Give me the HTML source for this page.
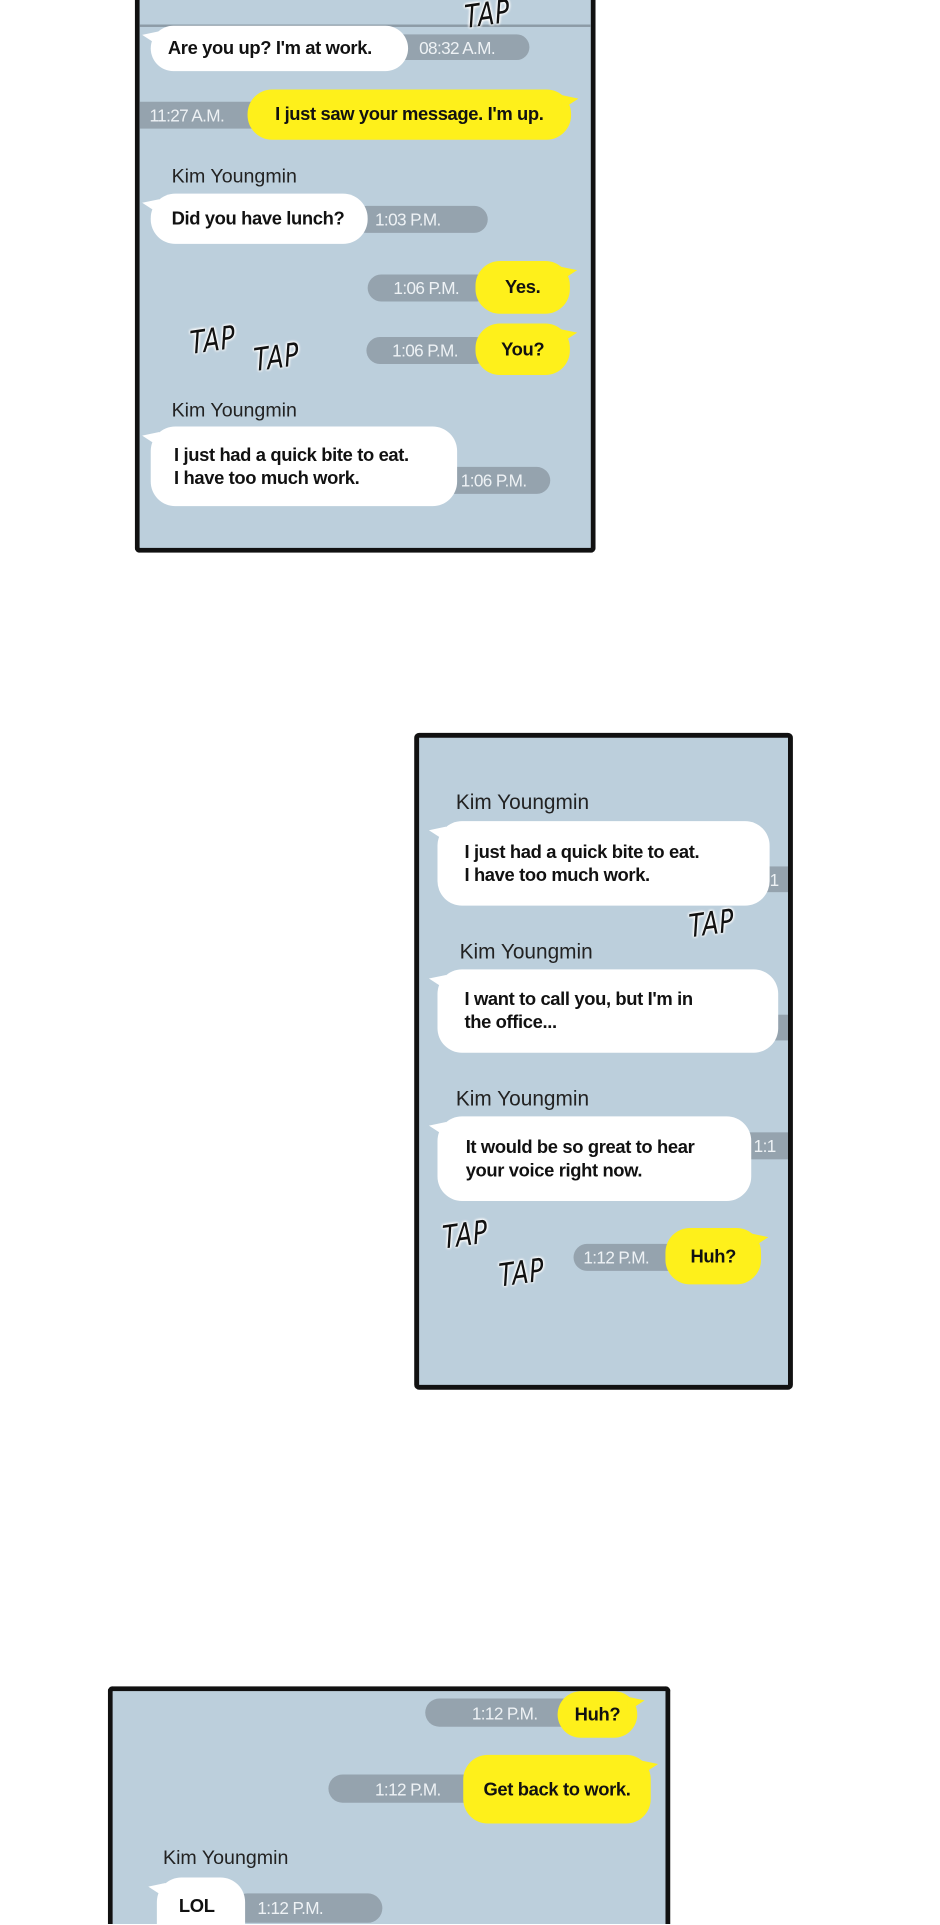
<!DOCTYPE html>
<html><head><meta charset="utf-8">
<style>
html,body{margin:0;padding:0;background:#fff;width:940px;height:1925px;overflow:hidden}
#w{position:absolute;left:0;top:0;width:767px;height:1570px;transform:scale(1.2255);transform-origin:0 0;font-family:"Liberation Sans",sans-serif;overflow:hidden}
.panel{position:absolute;background:#bccfdc;border:4px solid #111;border-radius:4px;box-sizing:border-box;overflow:hidden}
.a{position:absolute;box-sizing:border-box}
.pill{position:absolute;background:#95a3ae;color:#eef2f5;border-radius:12px;font-size:14px;display:flex;align-items:center;box-sizing:border-box;letter-spacing:-0.5px}
.wb{position:absolute;background:#fff;border-radius:20px;color:#111;font-weight:bold;font-size:15px;box-sizing:border-box;display:flex;align-items:center;letter-spacing:-0.3px;line-height:19px}
.yb{position:absolute;background:#fef01b;border-radius:20px;color:#111;font-weight:bold;font-size:15px;box-sizing:border-box;display:flex;align-items:center;justify-content:center;letter-spacing:-0.3px}
.wb:before{content:"";position:absolute;left:-7px;top:2px;border-right:14px solid #fff;border-top:8px solid transparent;border-bottom:4px solid transparent;transform:skewY(20deg)}
.yb:after{content:"";position:absolute;right:-6px;top:2px;border-left:14px solid #fef01b;border-top:8px solid transparent;border-bottom:4px solid transparent;transform:skewY(-20deg)}
.name{position:absolute;font-size:16px;color:#222}
.tap{position:absolute;font-family:"DejaVu Sans",sans-serif;font-style:italic;font-size:26px;color:#111;transform:scaleX(0.75) rotate(-6deg);transform-origin:0 0;text-shadow:0 0 3px #fff,0 0 3px #fff,0 0 3px #fff,0 0 2px #fff;letter-spacing:1px}
</style></head><body><div id="w">

<!-- panel 1 -->
<div class="panel" style="left:110px;top:0px;width:376px;height:451px;border-top:none;border-radius:0 0 4px 4px"></div>
<div class="a" style="left:114px;top:20px;width:368px;height:2px;background:#8d9ba6"></div>
<div class="pill" style="left:318px;top:28px;width:114px;height:21px;padding-left:24px">08:32 A.M.</div>
<div class="wb" style="left:123px;top:21px;width:210px;height:37px;padding-left:14px">Are you up? I'm at work.</div>
<div class="pill" style="left:114px;top:83px;width:110px;height:22px;padding-left:8px;border-radius:0 12px 12px 0">11:27 A.M.</div>
<div class="yb" style="left:202px;top:73px;width:264px;height:41px">I just saw your message. I'm up.</div>
<div class="name" style="left:140px;top:136px">Kim Youngmin</div>
<div class="pill" style="left:288px;top:168px;width:110px;height:22px;padding-left:18px">1:03 P.M.</div>
<div class="wb" style="left:123px;top:158px;width:177px;height:41px;padding-left:17px">Did you have lunch?</div>
<div class="pill" style="left:300px;top:224px;width:100px;height:22px;padding-left:21px">1:06 P.M.</div>
<div class="yb" style="left:388px;top:213px;width:77px;height:43px">Yes.</div>
<div class="tap" style="left:154px;top:266px">TAP</div>
<div class="tap" style="left:206px;top:280px">TAP</div>
<div class="pill" style="left:299px;top:275px;width:100px;height:22px;padding-left:21px">1:06 P.M.</div>
<div class="yb" style="left:388px;top:264px;width:77px;height:42px">You?</div>
<div class="name" style="left:140px;top:327px">Kim Youngmin</div>
<div class="pill" style="left:360px;top:381px;width:89px;height:22px;padding-left:16px">1:06 P.M.</div>
<div class="wb" style="left:123px;top:348px;width:250px;height:65px;padding-left:19px">I just had a quick bite to eat.<br>I have too much work.</div>
<div class="tap" style="left:378px;top:0px">TAP</div>

<!-- panel 2 -->
<div class="panel" style="left:338px;top:598px;width:309px;height:536px"></div>
<div class="name" style="left:372px;top:645px;font-size:17px">Kim Youngmin</div>
<div class="pill" style="left:620px;top:707px;width:23px;height:21px;padding-left:8px;border-radius:0">1</div>
<div class="wb" style="left:357px;top:670px;width:271px;height:69px;padding-left:22px">I just had a quick bite to eat.<br>I have too much work.</div>
<div class="tap" style="left:561px;top:742px">TAP</div>
<div class="name" style="left:375px;top:767px;font-size:17px">Kim Youngmin</div>
<div class="pill" style="left:625px;top:828px;width:18px;height:21px;border-radius:0"></div>
<div class="wb" style="left:357px;top:791px;width:278px;height:68px;padding-left:22px">I want to call you, but I'm in<br>the office...</div>
<div class="name" style="left:372px;top:887px;font-size:17px">Kim Youngmin</div>
<div class="pill" style="left:605px;top:924px;width:38px;height:22px;padding-left:10px;border-radius:0">1:1</div>
<div class="wb" style="left:357px;top:911px;width:256px;height:69px;padding-left:23px">It would be so great to hear<br>your voice right now.</div>
<div class="tap" style="left:360px;top:996px">TAP</div>
<div class="tap" style="left:406px;top:1027px">TAP</div>
<div class="pill" style="left:468px;top:1015px;width:95px;height:22px;padding-left:8px">1:12 P.M.</div>
<div class="yb" style="left:543px;top:1002px;width:78px;height:46px">Huh?</div>

<!-- panel 3 -->
<div class="panel" style="left:88px;top:1376px;width:459px;height:194px;border-bottom:none;border-radius:4px 4px 0 0"></div>
<div class="pill" style="left:347px;top:1386px;width:125px;height:23px;padding-left:38px">1:12 P.M.</div>
<div class="yb" style="left:455px;top:1380px;width:65px;height:38px">Huh?</div>
<div class="pill" style="left:268px;top:1448px;width:125px;height:23px;padding-left:38px">1:12 P.M.</div>
<div class="yb" style="left:378px;top:1432px;width:153px;height:56px">Get back to work.</div>
<div class="name" style="left:133px;top:1508px">Kim Youngmin</div>
<div class="pill" style="left:190px;top:1545px;width:122px;height:24px;padding-left:20px">1:12 P.M.</div>
<div class="wb" style="left:128px;top:1532px;width:72px;height:38px;padding-left:18px;align-items:flex-start;padding-top:14px;border-radius:20px 20px 0 0">LOL</div>

</div></body></html>
